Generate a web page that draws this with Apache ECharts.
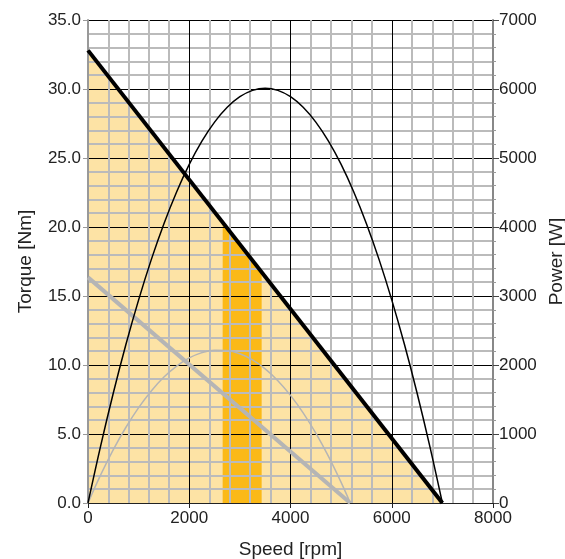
<!DOCTYPE html>
<html>
<head>
<meta charset="utf-8">
<script src="https://cdn.jsdelivr.net/npm/echarts@6/dist/echarts.min.js"></script>
<style>
  html, body { margin: 0; padding: 0; background: #fff; }
  #chart { width: 565px; height: 559px; }
</style>
</head>
<body>
<div id="chart"></div>
<script>
// torque lines (straight, read at their end points)
const torqueHighSpeed = [0, 7000];
const torqueHigh = [32.8, 0];
const torqueLowSpeed = [0, 5180];
const torqueLow = [16.35, 0];

// highlighted operating band
const bandSpeed = [2660, 3430];
const bandTorque = [20.34, 16.73];

// power curves, read every 250 rpm
const powerHighSpeed = [0, 250, 500, 750, 1000, 1250, 1500, 1750, 2000, 2250, 2500, 2750, 3000, 3250, 3500,
  3750, 4000, 4250, 4500, 4750, 5000, 5250, 5500, 5750, 6000, 6250, 6500, 6750, 7000];
const powerHigh = [0, 828, 1595, 2300, 2944, 3527, 4048, 4508, 4907, 5244, 5520, 5735, 5888, 5980, 6011,
  5980, 5888, 5735, 5520, 5244, 4907, 4508, 4048, 3527, 2944, 2300, 1595, 828, 0];
const powerLowSpeed = [0, 250, 500, 750, 1000, 1250, 1500, 1750, 2000, 2250, 2500, 2750, 3000, 3250,
  3500, 3750, 4000, 4250, 4500, 4750, 5000, 5180];
const powerLow = [0, 407, 774, 1098, 1382, 1624, 1825, 1984, 2102, 2179, 2215, 2209, 2162, 2073,
  1944, 1773, 1560, 1307, 1012, 675, 298, 0];

const font = "Liberation Sans";
const pairs = (xs, ys) => xs.map((x, i) => [x, ys[i]]);

const chart = echarts.init(document.getElementById("chart"), null, { renderer: "canvas" });

chart.setOption({
  animation: false,
  textStyle: { fontFamily: font },
  grid: { left: 88, right: 72, top: 20, bottom: 56, outerBoundsMode: "none" },
  xAxis: {
    type: "value",
    min: 0, max: 8000, interval: 2000,
    z: 2,
    name: "Speed [rpm]",
    nameLocation: "middle",
    nameGap: 37,
    nameTextStyle: { fontSize: 19, color: "#222", fontFamily: font },
    axisLine: { lineStyle: { color: "#222", width: 1 } },
    axisTick: { show: true, length: 5, lineStyle: { color: "#222" } },
    minorTick: { show: false, splitNumber: 5 },
    axisLabel: { fontSize: 17, color: "#222", margin: 7, fontFamily: font,
      formatter: (v) => String(v) },
    splitLine: { show: true, lineStyle: { color: "#000", width: 1 } },
    minorSplitLine: { show: true, lineStyle: { color: "#bbbbbb", width: 2 } },
  },
  yAxis: [
    {
      type: "value",
      min: 0, max: 35, interval: 5,
      z: 2,
      name: "Torque [Nm]",
      nameLocation: "middle",
      nameGap: 53,
      nameTextStyle: { fontSize: 19, color: "#222", fontFamily: font },
      axisLine: { show: true, lineStyle: { color: "#999", width: 2 } },
      axisTick: { show: true, length: 5, lineStyle: { color: "#999" } },
      minorTick: { show: false, splitNumber: 5 },
      axisLabel: { fontSize: 17, color: "#222", margin: 7, fontFamily: font,
        formatter: (v) => v.toFixed(1) },
      splitLine: { show: true, lineStyle: { color: "#000", width: 1 } },
      minorSplitLine: { show: true, lineStyle: { color: "#bbbbbb", width: 2 } },
    },
    {
      type: "value",
      min: 0, max: 7000, interval: 1000,
      position: "right",
      z: 2,
      name: "Power [W]",
      nameLocation: "middle",
      nameGap: 54,
      nameTextStyle: { fontSize: 19, color: "#222", fontFamily: font },
      axisLine: { show: true, lineStyle: { color: "#888", width: 2 } },
      axisTick: { show: true, length: 6, lineStyle: { color: "#444" } },
      minorTick: { show: true, splitNumber: 5, length: 3, lineStyle: { color: "#999" } },
      axisLabel: { fontSize: 17, color: "#222", margin: 6, fontFamily: font,
        formatter: (v) => String(v) },
      splitLine: { show: false },
    },
  ],
  series: [
    {
      type: "line",
      z: 1,
      data: pairs(torqueHighSpeed, torqueHigh),
      symbol: "none",
      lineStyle: { width: 0 },
      areaStyle: { color: "#fde3a5", opacity: 1 },
    },
    {
      type: "line",
      z: 1,
      data: pairs(bandSpeed, bandTorque),
      symbol: "none",
      lineStyle: { width: 0 },
      areaStyle: { color: "#fbb917", opacity: 1 },
    },
    {
      type: "line",
      z: 3,
      yAxisIndex: 1,
      data: pairs(powerLowSpeed, powerLow),
      symbol: "none",
      smooth: 0.4,
      lineStyle: { color: "#b5b5b5", width: 1.5 },
    },
    {
      type: "line",
      z: 3,
      data: pairs(torqueLowSpeed, torqueLow),
      symbol: "none",
      lineStyle: { color: "#b5b5b5", width: 4 },
    },
    {
      type: "line",
      z: 4,
      yAxisIndex: 1,
      data: pairs(powerHighSpeed, powerHigh),
      symbol: "none",
      smooth: 0.4,
      lineStyle: { color: "#000", width: 1.5 },
    },
    {
      type: "line",
      z: 4,
      data: pairs(torqueHighSpeed, torqueHigh),
      symbol: "none",
      lineStyle: { color: "#000", width: 4 },
    },
  ],
});
</script>
</body>
</html>
